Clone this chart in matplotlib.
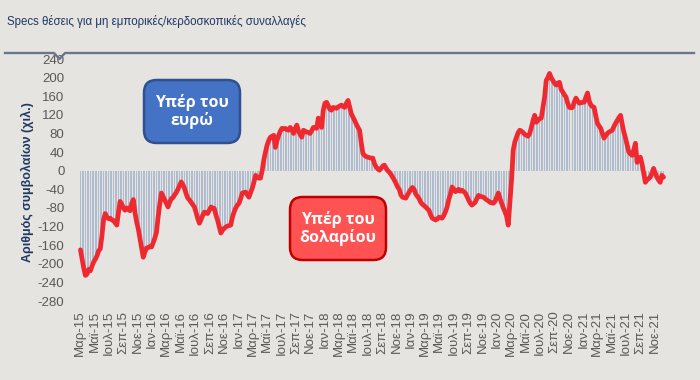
import matplotlib
matplotlib.use("Agg")
import matplotlib.pyplot as plt
import matplotlib.dates as mdates
from matplotlib.lines import Line2D
from matplotlib.patches import FancyBboxPatch
import pandas as pd

# weekly non-commercial net positions (thousand contracts), from 2015-03-03
start_date = "2015-03-03"
positions = [
    -170, -190, -210, -225, -222, -212, -215, -205, -196, -190,
    -183, -172, -168, -140, -105, -92, -100, -103, -102, -106,
    -107, -112, -117, -90, -66, -72, -80, -85, -80, -83,
    -86, -70, -62, -90, -110, -125, -145, -165, -186, -175,
    -166, -165, -163, -164, -155, -145, -133, -100, -72, -48,
    -55, -63, -70, -78, -68, -60, -58, -52, -47, -40,
    -32, -24, -30, -38, -50, -59, -63, -68, -73, -78,
    -90, -103, -113, -105, -96, -89, -91, -92, -85, -78,
    -80, -81, -95, -106, -120, -134, -128, -124, -121, -119,
    -118, -117, -100, -89, -80, -74, -70, -60, -48, -47,
    -46, -52, -57, -47, -38, -25, -10, -14, -16, -16,
    0, 23, 40, 55, 65, 72, 74, 76, 50, 65,
    76, 85, 91, 90, 91, 88, 87, 93, 88, 80,
    90, 98, 85, 78, 72, 87, 85, 83, 82, 80,
    86, 93, 92, 91, 113, 100, 93, 130, 145, 147,
    140, 132, 130, 136, 135, 134, 137, 139, 141, 138,
    136, 145, 151, 136, 122, 115, 108, 100, 93, 87,
    60, 37, 33, 30, 29, 28, 27, 27, 15, 8,
    4, 1, 5, 10, 12, 6, 0, -3, -8, -14,
    -20, -27, -35, -40, -52, -57, -58, -59, -52, -46,
    -40, -36, -40, -50, -55, -60, -68, -72, -75, -78,
    -82, -85, -95, -102, -104, -106, -104, -100, -101, -102,
    -96, -88, -78, -62, -50, -35, -40, -45, -43, -40,
    -44, -42, -45, -48, -55, -63, -70, -74, -71, -68,
    -60, -53, -55, -56, -57, -60, -63, -65, -68, -69,
    -70, -66, -57, -48, -60, -70, -80, -88, -98, -117,
    -70, -20, 44, 62, 72, 82, 87, 85, 82, 78,
    76, 74, 80, 93, 108, 119, 104, 108, 112, 113,
    135, 158, 194, 200, 209, 200, 194, 188, 184, 188,
    190, 175, 169, 163, 158, 145, 136, 135, 136, 148,
    156, 150, 145, 146, 147, 147, 158, 167, 150, 141,
    138, 136, 118, 102, 96, 91, 80, 70, 75, 80,
    83, 85, 87, 95, 102, 108, 114, 119, 100, 83,
    70, 55, 40, 36, 33, 45, 59, 18, 25, 29,
    15, -5, -25, -20, -17, -14, -5, 5, -5, -14,
    -20, -25, -10, -14,
]
y_ticks = list(range(-280, 241, 40))
month_names = {1: "Ιαν", 3: "Μαρ", 5: "Μαϊ", 7: "Ιουλ", 9: "Σεπ", 11: "Νοε"}
tick_dates = pd.date_range("2015-03-01", "2021-11-01", freq="2MS")

title = "Specs θέσεις για μη εμπορικές/κερδοσκοπικές συναλλαγές"
ylabel = "Αριθμός συμβολαίων (χιλ.)"
euro_label = "Υπέρ του\nευρώ"
dollar_label = "Υπέρ του\nδολαρίου"

bg = "#e6e4e0"
W, H = 700, 380
dates = pd.date_range(start_date, periods=len(positions), freq="7D")

fig = plt.figure(figsize=(W / 100, H / 100), dpi=100, facecolor=bg)
# axes in pixel terms: x 77..690, y 59..301 (top..bottom)
ax = fig.add_axes([77 / W, (H - 301) / H, (690 - 77) / W, (301 - 59) / H])
ax.set_facecolor(bg)

ax.bar(dates, positions, width=4.2, color="#afbcd0", linewidth=0, zorder=1)
ax.plot(dates, positions, color="#ee2a30", linewidth=3.4, solid_joinstyle="round",
        solid_capstyle="round", zorder=3)

d0 = mdates.date2num(pd.Timestamp("2015-03-01"))
d1 = mdates.date2num(pd.Timestamp("2021-11-01"))
ppd = (655 - 80) / (d1 - d0)
ax.set_xlim(d0 - (80 - 77) / ppd, d1 + (690 - 655) / ppd)
ax.set_ylim(-280, 240)

ax.set_yticks(y_ticks)
ax.set_yticklabels([str(v) for v in y_ticks], family="Liberation Sans", fontsize=9.5, color="#595959")
ax.set_xticks(mdates.date2num(tick_dates))
ax.set_xticklabels([f"{month_names[d.month]}-{d.year % 100:02d}" for d in tick_dates],
                   rotation=90, family="Liberation Sans", fontsize=9.5, color="#595959")
ax.tick_params(axis="both", length=0)
ax.tick_params(axis="y", pad=9)
ax.tick_params(axis="x", pad=7)
for s in ax.spines.values():
    s.set_visible(False)

fig.text(27 / W, 1 - 182 / H, ylabel, rotation=90, ha="center", va="center",
         family="Liberation Sans", fontweight="bold", fontsize=9, color="#1f3864")

# title and rule with small notch
fig.text(7 / W, 1 - 22 / H, title, ha="left", va="center",
         family="Liberation Sans", fontsize=8.3, color="#1f3864")
xs = [5, 54, 59.5, 65, 694]
ys = [53, 53, 59, 53, 53]
fig.add_artist(Line2D([x / W for x in xs], [1 - y / H for y in ys], color="#6a768e",
                      linewidth=1.7, transform=fig.transFigure))


def label_box(x0, y0, x1, y1, text, face, edge):
    box = FancyBboxPatch((x0 / W, 1 - y1 / H), (x1 - x0) / W, (y1 - y0) / H,
                         boxstyle="round,pad=0,rounding_size=0.018",
                         transform=fig.transFigure, facecolor=face, edgecolor=edge,
                         linewidth=1.8, zorder=5, mutation_aspect=W / H)
    fig.add_artist(box)
    fig.text((x0 + x1) / 2 / W, 1 - (y0 + y1) / 2 / H, text, ha="center", va="center",
             color="white", fontsize=11.5, fontweight="bold", linespacing=1.15,
             family=["Open Sans", "DejaVu Sans"], zorder=6)


label_box(144, 80, 240, 143, euro_label, "#4472c4", "#2f528f")
label_box(290, 197, 386, 260, dollar_label, "#ff5353", "#c00000")

fig.savefig("out.png", dpi=100, facecolor=bg)
